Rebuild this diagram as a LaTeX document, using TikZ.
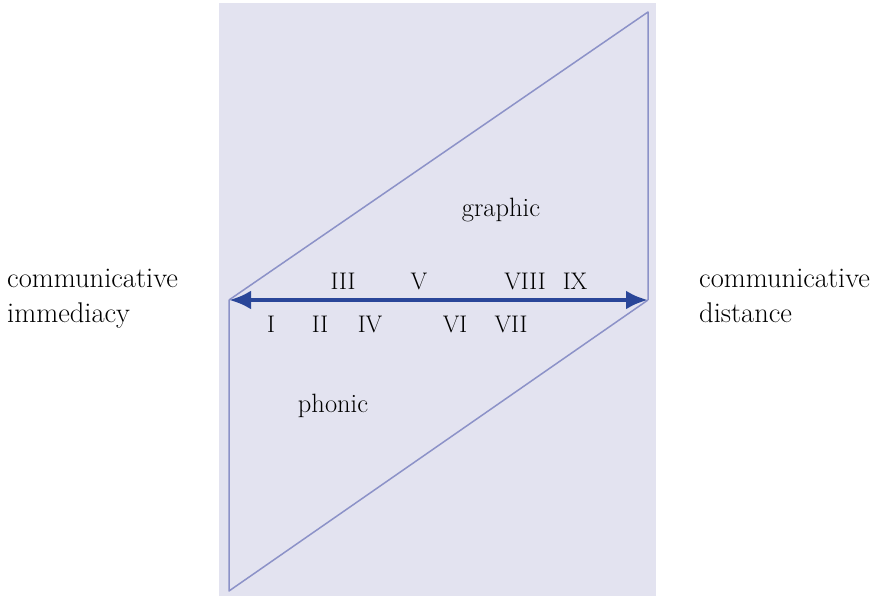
\documentclass[tikz,border=0pt]{standalone}
\usetikzlibrary{arrows.meta}
\definecolor{panelbg}{HTML}{E3E3F0}
\definecolor{edgeblue}{HTML}{8C92C8}
\definecolor{axisblue}{HTML}{2A4699}
\tikzset{
  label text/.style={font=\fontsize{28.5}{35}\selectfont, inner sep=0pt},
  medium text/.style={font=\fontsize{26.5}{30}\selectfont, inner sep=0pt, anchor=base},
  numeral/.style={font=\fontsize{24}{28}\selectfont, inner sep=0pt, anchor=base}
}
\begin{document}
\begin{tikzpicture}[x=1pt,y=1pt]
  \useasboundingbox (0,0) rectangle (875,596);
  % Panel background
  \fill[panelbg] (219,0) rectangle (656,593);
  % Corners of the two triangles
  \coordinate (L) at (229,296);
  \coordinate (R) at (648,296);
  \coordinate (T) at (648,584);
  \coordinate (B) at (229,5);
  \draw[edgeblue, line width=1.5pt, line join=round] (L) -- (T) -- (R);
  \draw[edgeblue, line width=1.5pt, line join=round] (L) -- (B) -- (R);
  % Continuum arrow
  \draw[axisblue, line width=4.8pt, {Latex[length=22pt,width=19pt]}-{Latex[length=22pt,width=19pt]}] (L) -- (R);
  % Medium labels
  \node[medium text] (graphic) at (501,379) {graphic};
  \node[medium text] (phonic) at (333,183) {phonic};
  % Pole labels (base anchor sits on the last line)
  \node[label text, anchor=base west, align=left] (immediacy) at (7,273) {communicative\\immediacy};
  \node[label text, anchor=base west, align=left] (distance) at (699,273) {communicative\\distance};
  % Roman numerals above and below the arrow
  \foreach \name/\xpos in {III/343, V/419, VIII/525, IX/575}
    \node[numeral] (n\name) at (\xpos,306) {\name};
  \foreach \name/\xpos in {I/271, II/320, IV/370, VI/455, VII/511}
    \node[numeral] (n\name) at (\xpos,263) {\name};
\end{tikzpicture}
\end{document}
